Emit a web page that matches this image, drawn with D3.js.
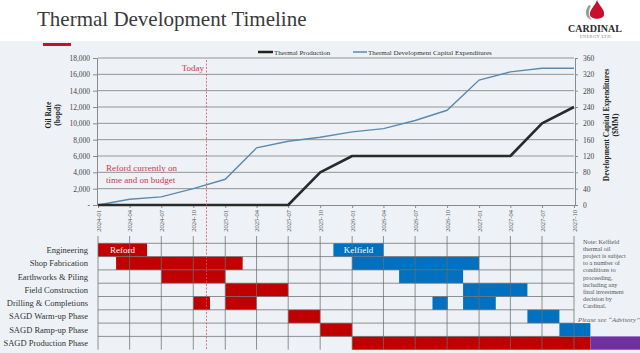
<!DOCTYPE html>
<html>
<head>
<meta charset="utf-8">
<title>Thermal Development Timeline</title>
<script src="https://cdnjs.cloudflare.com/ajax/libs/d3/7.8.5/d3.min.js"></script>
<style>
  body { margin: 0; background: #fff; }
  svg text { font-family: "Liberation Serif", "DejaVu Serif", serif; }
</style>
</head>
<body>
<script>
// quarterly points, 2024-01 .. 2027-10
var quarters = ["2024-01","2024-04","2024-07","2024-10","2025-01","2025-04","2025-07","2025-10",
                "2026-01","2026-04","2026-07","2026-10","2027-01","2027-04","2027-07","2027-10"];
var production = [0,0,0,0,0,0,0,4000,6000,6000,6000,6000,6000,6000,10000,12000];   // bopd
var capex = [0,14,20,40,63,140,156,166,179,187,207,232,306,326,335,335];               // $MM

var phases = ["Engineering","Shop Fabrication","Earthworks & Piling","Field Construction",
              "Drilling & Completions","SAGD Warm-up Phase","SAGD Ramp-up Phase","SAGD Production Phase"];

var refordBars = [
  {row: 0, start: "2024-01-01", end: "2024-05-21"},
  {row: 1, start: "2024-02-22", end: "2025-02-20"},
  {row: 2, start: "2024-07-01", end: "2025-01-01"},
  {row: 3, start: "2025-01-01", end: "2025-07-01"},
  {row: 4, start: "2024-10-01", end: "2024-11-18"},
  {row: 4, start: "2025-01-01", end: "2025-04-01"},
  {row: 5, start: "2025-07-01", end: "2025-10-01"},
  {row: 6, start: "2025-10-01", end: "2026-01-01"},
  {row: 7, start: "2026-01-01", end: "2027-11-17"}
];
var kelfieldBars = [
  {row: 0, start: "2025-11-08", end: "2026-04-01"},
  {row: 1, start: "2026-01-01", end: "2027-01-01"},
  {row: 2, start: "2026-05-16", end: "2026-11-16"},
  {row: 3, start: "2026-11-16", end: "2027-05-20"},
  {row: 4, start: "2026-08-20", end: "2026-10-03"},
  {row: 4, start: "2026-11-16", end: "2027-02-18"},
  {row: 5, start: "2027-05-20", end: "2027-08-20"},
  {row: 6, start: "2027-08-20", end: "2027-11-17"}
];
var laterBars = [
  {row: 7, start: "2027-11-17", end: "2028-04-12"}
];
var todayDate = "2024-11-08";
var noteLines = ["Note: Kelfield","thermal oil","project is subject","to a number of",
                 "conditions to","proceeding,","including any","final investment",
                 "decision by","Cardinal."];

var W = 640, H = 353;
var parseQ = d3.timeParse("%Y-%m"), parseD = d3.timeParse("%Y-%m-%d");
var dates = quarters.map(parseQ);

var svg = d3.select("body").append("svg")
    .attr("width", W).attr("height", H);

svg.append("rect").attr("width", W).attr("height", H).attr("fill", "#fff");
svg.append("rect").attr("y", 41).attr("width", W).attr("height", H - 41).attr("fill", "#eef2f6");

// header
svg.append("text").attr("x", 37).attr("y", 26)
    .attr("font-size", 21).attr("fill", "#3a3a3a")
    .text("Thermal Development Timeline");
svg.append("rect").attr("x", 43).attr("y", 43).attr("width", 28).attr("height", 3).attr("fill", "#c8102e");

// logo
var logo = svg.append("g");
logo.append("path")
    .attr("d", "M589,5 C584,11 585,18 592,20 C588,16 588,11 591,6 Z")
    .attr("fill", "#9a9a9a");
logo.append("path")
    .attr("d", "M597,0 C599,6 605,9 604,15 C603,20 591,20 590,15 C589,10 595,6 597,0 Z")
    .attr("fill", "#c8102e");
logo.append("text").attr("x", 595).attr("y", 32).attr("text-anchor", "middle")
    .attr("font-size", 10).attr("font-weight", "bold").attr("fill", "#2b2b2b").text("CARDINAL");
logo.append("text").attr("x", 596).attr("y", 38).attr("text-anchor", "middle")
    .attr("font-size", 4.6).attr("fill", "#8a8a8a").attr("letter-spacing", 0.3).text("ENERGY LTD.");

// scales
var x = d3.scaleTime().domain([dates[0], dates[dates.length - 1]]).range([98, 574]);
var yL = d3.scaleLinear().domain([0, 18000]).range([205, 58]);
var yR = d3.scaleLinear().domain([0, 360]).range([205, 58]);

// gridlines
svg.append("g").selectAll("line")
    .data(d3.range(2000, 18001, 2000)).join("line")
    .attr("x1", 98).attr("x2", 574)
    .attr("y1", d => yL(d)).attr("y2", d => yL(d))
    .attr("stroke", "#949494").attr("stroke-width", 1);

// axes
var axL = svg.append("g").attr("transform", "translate(97,0)")
    .call(d3.axisLeft(yL).tickValues(d3.range(0, 18001, 2000))
        .tickFormat(d => d === 0 ? "-" : d3.format(",")(d)).tickSize(4).tickPadding(3));
var axR = svg.append("g").attr("transform", "translate(575,0)")
    .call(d3.axisRight(yR).tickValues(d3.range(0, 361, 40)).tickSize(3).tickPadding(5));
var axB = svg.append("g").attr("transform", "translate(0,205)")
    .call(d3.axisBottom(x).tickValues(dates).tickFormat(d3.timeFormat("%Y-%m")).tickSize(3));
axB.selectAll("text")
    .attr("transform", "rotate(-90)")
    .attr("text-anchor", "end")
    .attr("x", -5).attr("y", 0).attr("dy", "0.32em")
    .attr("font-size", 6.5).attr("fill", "#555");
[axL, axR, axB].forEach(function (a) {
  a.select(".domain").attr("stroke", "#8a8a8a");
  a.selectAll(".tick line").attr("stroke", "#8a8a8a");
  a.attr("font-family", null);
});
axL.selectAll("text").attr("font-size", 7.5).attr("fill", "#444");
axR.selectAll("text").attr("font-size", 7.5).attr("fill", "#444");

// axis titles
var tl = svg.append("text").attr("transform", "translate(51,115) rotate(-90)")
    .attr("text-anchor", "middle").attr("font-size", 7.5).attr("font-weight", "bold").attr("fill", "#222");
tl.append("tspan").attr("x", 0).attr("dy", 0).text("Oil Rate");
tl.append("tspan").attr("x", 0).attr("dy", 9).text("(bopd)");
var tr = svg.append("text").attr("transform", "translate(609,125) rotate(-90)")
    .attr("text-anchor", "middle").attr("font-size", 7.5).attr("font-weight", "bold").attr("fill", "#222");
tr.append("tspan").attr("x", 0).attr("dy", 0).text("Development Capital Expenditures");
tr.append("tspan").attr("x", 0).attr("dy", 9).text("($MM)");

// legend
var lg = svg.append("g");
lg.append("line").attr("x1", 258).attr("x2", 273).attr("y1", 52).attr("y2", 52)
    .attr("stroke", "#222").attr("stroke-width", 2.5);
lg.append("text").attr("x", 274).attr("y", 54.5).attr("font-size", 7).attr("fill", "#333").text("Thermal Production");
lg.append("line").attr("x1", 353).attr("x2", 367).attr("y1", 52).attr("y2", 52)
    .attr("stroke", "#5a8ab0").attr("stroke-width", 1.5);
lg.append("text").attr("x", 368).attr("y", 54.5).attr("font-size", 7).attr("fill", "#333")
    .text("Thermal Development Capital Expenditures");

// lines
svg.append("path").datum(capex)
    .attr("fill", "none").attr("stroke", "#5a8ab0").attr("stroke-width", 1.4)
    .attr("d", d3.line().x((d, i) => x(dates[i])).y(d => yR(d)));
svg.append("path").datum(production)
    .attr("fill", "none").attr("stroke", "#2a2a2a").attr("stroke-width", 2.6)
    .attr("stroke-linejoin", "round")
    .attr("d", d3.line().x((d, i) => x(dates[i])).y(d => yL(d)));

// annotations
svg.append("text").attr("x", 204).attr("y", 71).attr("text-anchor", "end")
    .attr("font-size", 9).attr("fill", "#c23b4e").text("Today");
var rn = svg.append("text").attr("font-size", 9).attr("fill", "#c23b4e");
rn.append("tspan").attr("x", 106).attr("y", 170.5).text("Reford currently on");
rn.append("tspan").attr("x", 106).attr("y", 182.5).text("time and on budget");

// gantt
var rowTop = 243.3, rowH = 13.3;
var row = function (i) { return rowTop + i * rowH; };
var g = svg.append("g");

g.selectAll("text.phase").data(phases).join("text")
    .attr("class", "phase")
    .attr("x", 88).attr("y", (d, i) => row(i) + rowH / 2 + 3)
    .attr("text-anchor", "end").attr("font-size", 8.5).attr("fill", "#333")
    .text(d => d);

function drawBars(list, color) {
  g.append("g").selectAll("rect").data(list).join("rect")
    .attr("x", d => x(parseD(d.start)))
    .attr("width", d => x(parseD(d.end)) - x(parseD(d.start)))
    .attr("y", d => row(d.row))
    .attr("height", rowH)
    .attr("fill", color);
}
drawBars(refordBars, "#c00000");
drawBars(kelfieldBars, "#0070c0");
drawBars(laterBars, "#7030a0");

// gantt grid over bars
g.append("g").selectAll("line").data(d3.range(0, phases.length)).join("line")
    .attr("x1", 98).attr("x2", 574)
    .attr("y1", d => row(d)).attr("y2", d => row(d))
    .attr("stroke", "#6e6e6e").attr("stroke-opacity", 0.75).attr("stroke-width", 1);
g.append("g").selectAll("line").data(dates).join("line")
    .attr("x1", d => x(d)).attr("x2", d => x(d))
    .attr("y1", 236).attr("y2", row(phases.length))
    .attr("stroke", "#6e6e6e").attr("stroke-opacity", 0.75).attr("stroke-width", 1);

// bar labels
g.append("text").attr("x", (x(parseD(refordBars[0].start)) + x(parseD(refordBars[0].end))) / 2)
    .attr("y", row(0) + rowH / 2 + 3.2).attr("text-anchor", "middle")
    .attr("font-size", 9).attr("fill", "#fff").text("Reford");
g.append("text").attr("x", (x(parseD(kelfieldBars[0].start)) + x(parseD(kelfieldBars[0].end))) / 2)
    .attr("y", row(0) + rowH / 2 + 3.2).attr("text-anchor", "middle")
    .attr("font-size", 9).attr("fill", "#fff").text("Kelfield");

// today line
svg.append("line")
    .attr("x1", x(parseD(todayDate))).attr("x2", x(parseD(todayDate)))
    .attr("y1", 60).attr("y2", row(phases.length))
    .attr("stroke", "#d9506a").attr("stroke-width", 0.8).attr("stroke-dasharray", "2,1.5");

// note
svg.append("g").selectAll("text").data(noteLines).join("text")
    .attr("x", 583).attr("y", (d, i) => 244 + i * 7.1)
    .attr("font-size", 6.3).attr("fill", "#555").text(d => d);
svg.append("text").attr("x", 578).attr("y", 322)
    .attr("font-size", 6.8).attr("font-style", "italic").attr("fill", "#666")
    .text("Please see \u201cAdvisory\u201d");
</script>
</body>
</html>
